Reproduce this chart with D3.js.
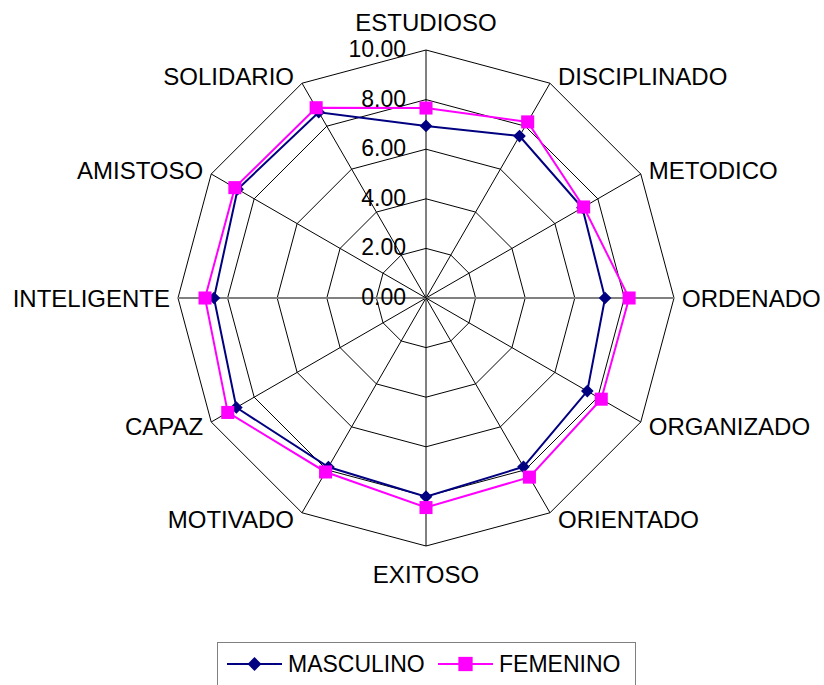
<!DOCTYPE html>
<html>
<head>
<meta charset="utf-8">
<script src="https://cdn.jsdelivr.net/npm/d3@7/dist/d3.min.js"></script>
<style>
  body { margin: 0; background: #fff; }
  svg { display: block; font-family: Arial, "Liberation Sans", sans-serif; }
</style>
</head>
<body>
<svg id="chart" width="824" height="685"></svg>
<script>
// Categories, clockwise from the top.
const categories = ["ESTUDIOSO", "DISCIPLINADO", "METODICO", "ORDENADO", "ORGANIZADO",
    "ORIENTADO", "EXITOSO", "MOTIVADO", "CAPAZ", "INTELIGENTE", "AMISTOSO", "SOLIDARIO"];

const masculino = [6.94, 7.54, 7.28, 7.22, 7.51, 7.86, 8.01, 7.87, 8.83, 8.55, 8.77, 8.65];
const femenino = [7.66, 8.20, 7.34, 8.19, 8.16, 8.34, 8.45, 8.10, 9.23, 8.91, 8.90, 8.86];

const tickValues = [0, 2, 4, 6, 8, 10];

const svg = d3.select("#chart");

// Chart centre and outer radius.
const cx = 426, cy = 298, R = 248;
const fontSize = 23;

const r = d3.scaleLinear().domain([0, 10]).range([0, R]);
const angle = d3.scaleLinear().domain([0, categories.length]).range([0, 2 * Math.PI]);

function px(i, v) { return cx + r(v) * Math.sin(angle(i)); }
function py(i, v) { return cy - r(v) * Math.cos(angle(i)); }

const g = svg.append("g");

// Grid rings (polygons).
tickValues.filter(t => t > 0).forEach(function(t) {
    let pts = categories.map((c, i) => [px(i, t), py(i, t)]);
    g.append("polygon")
        .attr("points", pts.map(p => p.join(",")).join(" "))
        .attr("fill", "none")
        .attr("stroke", "#000")
        .attr("stroke-width", 1);
});

// Spokes.
categories.forEach(function(c, i) {
    let horiz = (i === 3 || i === 9);
    g.append("line")
        .attr("x1", cx).attr("y1", cy)
        .attr("x2", px(i, 10)).attr("y2", py(i, 10))
        .attr("stroke", horiz ? "#808080" : "#000")
        .attr("stroke-width", horiz ? 2 : 1);
});

// Value tick labels along the vertical axis.
g.selectAll(".tick")
    .data(tickValues)
    .enter().append("text")
    .attr("x", cx - 20)
    .attr("y", d => cy - r(d) - 1)
    .attr("text-anchor", "end")
    .attr("dominant-baseline", "central")
    .attr("font-size", fontSize)
    .attr("fill", "#000")
    .text(d => d.toFixed(2));

// Category labels.
categories.forEach(function(c, i) {
    let a = angle(i);
    let s = Math.sin(a), co = Math.cos(a);
    let x, y, anchor;
    if (Math.abs(s) < 0.01) {
        x = cx;
        y = cy - (R + 28) * co;
        anchor = "middle";
    } else {
        x = px(i, 10) + (s > 0 ? 8 : -8);
        y = py(i, 10) - 8 * co;
        anchor = s > 0 ? "start" : "end";
    }
    g.append("text")
        .attr("x", x)
        .attr("y", y)
        .attr("text-anchor", anchor)
        .attr("dominant-baseline", "central")
        .attr("font-size", 24)
        .attr("fill", "#000")
        .text(c);
});

// Series.
const series = [
    { name: "MASCULINO", values: masculino, color: "#000080", marker: d3.symbolSquare, size: 80, rotate: 45 },
    { name: "FEMENINO", values: femenino, color: "#ff00ff", marker: d3.symbolSquare, size: 170, rotate: 0 }
];

const line = d3.lineRadial()
    .angle((d, i) => angle(i))
    .radius(d => r(d))
    .curve(d3.curveLinearClosed);

series.forEach(function(s) {
    let sg = g.append("g");
    sg.append("path")
        .attr("d", line(s.values))
        .attr("transform", "translate(" + cx + "," + cy + ")")
        .attr("fill", "none")
        .attr("stroke", s.color)
        .attr("stroke-width", 2);
    sg.selectAll("path.m")
        .data(s.values)
        .enter().append("path")
        .attr("class", "m")
        .attr("d", d3.symbol().type(s.marker).size(s.size))
        .attr("transform", (d, i) => "translate(" + px(i, d) + "," + py(i, d) + ") rotate(" + s.rotate + ")")
        .attr("fill", s.color);
});

// Legend.
const legend = svg.append("g");
legend.append("rect")
    .attr("x", 217.5).attr("y", 642.5)
    .attr("width", 418).attr("height", 60)
    .attr("fill", "#fff")
    .attr("stroke", "#808080")
    .attr("stroke-width", 1);

const legendX = [227, 438];
series.forEach(function(s, k) {
    let x0 = legendX[k], y0 = 664;
    legend.append("line")
        .attr("x1", x0).attr("x2", x0 + 55)
        .attr("y1", y0).attr("y2", y0)
        .attr("stroke", s.color)
        .attr("stroke-width", 2);
    legend.append("path")
        .attr("d", d3.symbol().type(s.marker).size(s.size * 1.2))
        .attr("transform", "translate(" + (x0 + 27.5) + "," + y0 + ") rotate(" + s.rotate + ")")
        .attr("fill", s.color);
    legend.append("text")
        .attr("x", x0 + 61)
        .attr("y", y0)
        .attr("dominant-baseline", "central")
        .attr("font-size", fontSize)
        .attr("fill", "#000")
        .text(s.name);
});
</script>
</body>
</html>
